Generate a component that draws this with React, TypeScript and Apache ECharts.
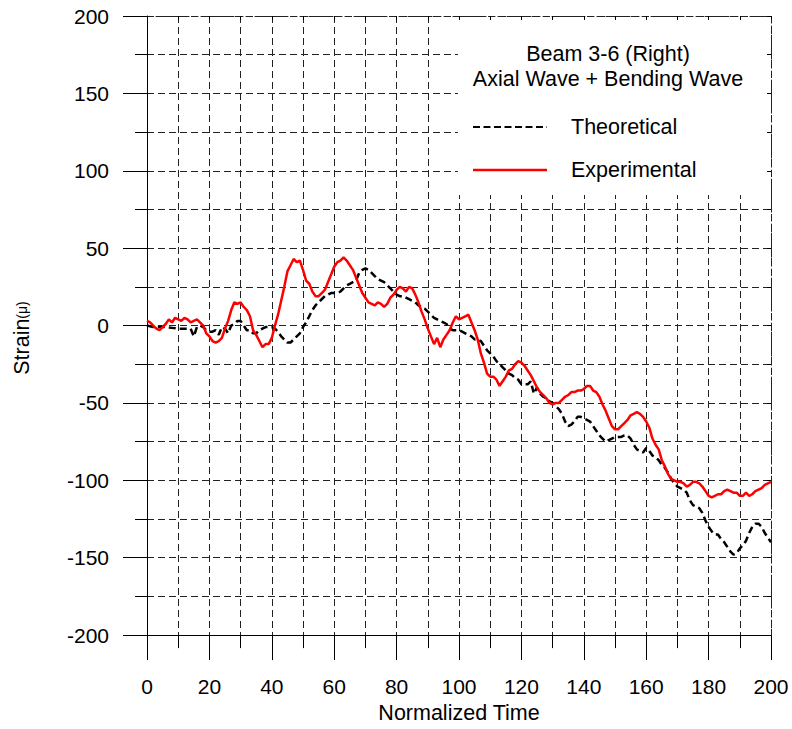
import React, { useEffect, useRef } from "react";
import * as echarts from "echarts";

// Normalized time / strain samples for each curve
const theoreticalT = [0,2,4,6,8,10,12,14,15,16,17,18,19,20,21,22,23,24,25,26,27,28,29,30,31,32,33,34,35,36,37,38,39,40,41,42,43,44,45,46,47,48,49,50,51,52,53,54,55,56,57,58,59,60,61,62,63,64,65,66,67,68,69,70,71,72,73,74,75,76,77,78,79,80,81,82,83,84,85,86,87,88,89,90,91,92,93,94,95,96,97,98,99,100,101,102,103,104,105,106,107,108,109,110,111,112,113,114,115,116,117,118,119,120,121,122,123,124,125,126,127,128,129,130,131,132,133,134,135,136,137,138,139,140,141,142,143,144,145,146,147,148,149,150,151,152,153,154,155,156,157,158,159,160,161,162,163,164,165,166,167,168,169,170,171,172,173,174,175,176,177,178,179,180,181,182,183,184,185,186,187,188,189,190,191,192,193,194,195,196,197,198,199,200];
const theoreticalStrain = [0,-1,-1,-1,-1.5,-2,-2,-2,-7,-1,0,-1,-3,-4,-4,-3,-6,-1,-2,-5,0,1,3,3,0,-3,-3,-5,-5,-3,-2,-1,-1,-1,-2,-4,-7,-9,-11,-11,-9,-7,-5,-1,2,6,10,13,15,17,19,20,21,21,21,22,24,26,27,28,29,34,36,37,36,34,32,30,29,28,26,24,22,20,19,19,18,17,16,15,13,12,11,9,7,5,4,3,2,1,-2,-3,-3,-3,-4,-5,-6,-7,-9,-9,-10,-13,-16,-18,-20,-23,-25,-27,-29,-31,-32,-34,-35,-38,-38,-38,-36,-44,-40,-44,-46,-47,-49,-50,-52,-54,-57,-62,-65,-64,-62,-59,-59,-60,-61,-62,-65,-68,-71,-73,-75,-74,-73,-72,-72,-72,-71,-71,-73,-77,-80,-81,-82,-79,-81,-84,-85,-87,-90,-92,-95,-99,-102,-104,-105,-106,-108,-113,-116,-117,-118,-121,-126,-130,-133,-135,-135,-138,-140,-143,-146,-148,-147,-144,-142,-139,-134,-130,-128,-128,-130,-134,-137,-140];

const experimentalStrain = [3,2,0,-2,-3,-1,1,4,2,5,4,3,5,4,2,3,4,2,0,-5,-7,-10,-11,-10,-8,-2,3,10,15,14,15,12,10,6,-3,-6,-10,-14,-12,-12,-8,0,7,16,25,35,39,43,41,42,36,29,27,22,19,19,21,23,28,33,38,41,42,44,42,39,36,31,26,21,18,15,14,13,15,14,12,14,18,20,23,25,24,22,25,24,20,15,9,4,-2,-7,-12,-8,-14,-9,-6,-3,2,6,4,5,6,7,2,-3,-9,-18,-24,-31,-33,-33,-35,-39,-36,-33,-29,-28,-25,-23,-24,-26,-29,-32,-36,-40,-43,-45,-47,-50,-51,-50,-50,-48,-46,-45,-43,-43,-42,-42,-41,-39,-39,-42,-43,-46,-51,-55,-60,-65,-67,-67,-65,-63,-61,-58,-57,-56,-57,-59,-62,-66,-73,-77,-80,-87,-91,-96,-99,-100,-101,-101,-102,-104,-103,-101,-101,-102,-104,-107,-110,-111,-110,-109,-109,-107,-106,-107,-108,-108,-110,-110,-108,-110,-109,-107,-106,-105,-103,-102,-101];
// experimental samples are taken every 1 time unit from 0 to 200
const experimentalT = experimentalStrain.map((_, i) => i);

const xTicks = [0, 200, 20];
const yTicks = [-200, 200, 50];

const seriesNames = ["Theoretical", "Experimental"];
const titleLines = ["Beam 3-6 (Right)", "Axial Wave + Bending Wave"];

const FONT = "'Liberation Sans', Arial, Helvetica, sans-serif";
const gridDash = { color: "#222", width: 1, type: [7, 4] as number[] };

export default function App() {
  const ref = useRef<HTMLDivElement>(null);

  useEffect(() => {
    if (!ref.current) return;
    const chart = echarts.init(ref.current, null, { renderer: "svg" });

    const theo = theoreticalT.map((t, i) => [t, theoreticalStrain[i]]);
    const expr = experimentalT.map((t, i) => [t, experimentalStrain[i]]);

    // top and right frame: dashed edge with short inward ticks
    const frameAxis = {
      show: true,
      axisLine: { show: true, onZero: false, lineStyle: { color: "#222", width: 1, type: [6, 3] } },
      axisTick: { show: true, inside: true, length: 4, lineStyle: { color: "#000", width: 1 } },
      minorTick: { show: true, splitNumber: 2, length: 4, lineStyle: { color: "#000", width: 1 } },
      axisLabel: { show: false },
      splitLine: { show: false },
      minorSplitLine: { show: false },
      z: 10,
    };

    const legendText = (text: string, x: number, y: number, align: string) => ({
      type: "text",
      z: 6,
      x,
      y,
      style: { text, fontSize: 21.5, fontFamily: FONT, fill: "#000", align, verticalAlign: "middle" },
    });

    chart.setOption({
      animation: false,
      backgroundColor: "#fff",
      textStyle: { fontFamily: FONT },
      grid: { left: 147, right: 21, top: 16, bottom: 91, containLabel: false },
      xAxis: [
        {
          type: "value",
          min: xTicks[0],
          max: xTicks[1],
          interval: xTicks[2],
          position: "bottom",
          name: "Normalized Time",
          nameLocation: "middle",
          nameGap: 65,
          nameTextStyle: { fontSize: 21.5, color: "#000", fontFamily: FONT },
          axisLine: { show: true, onZero: false, lineStyle: { color: "#000", width: 1 } },
          axisTick: { show: true, inside: false, length: 25, lineStyle: { color: "#000", width: 1 } },
          minorTick: { show: true, splitNumber: 2, length: 13, lineStyle: { color: "#000", width: 1 } },
          axisLabel: { fontSize: 21, color: "#000", margin: 41, fontFamily: FONT },
          splitLine: { show: true, lineStyle: gridDash },
          minorSplitLine: { show: true, lineStyle: gridDash },
        },
        {
          ...frameAxis,
          type: "value",
          min: xTicks[0],
          max: xTicks[1],
          interval: xTicks[2],
          position: "top",
        },
      ],
      yAxis: [
        {
          type: "value",
          min: yTicks[0],
          max: yTicks[1],
          interval: yTicks[2],
          position: "left",
          axisLine: { show: true, onZero: false, lineStyle: { color: "#000", width: 1 } },
          axisTick: { show: true, inside: false, length: 24, lineStyle: { color: "#000", width: 1 } },
          minorTick: { show: true, splitNumber: 2, length: 12, lineStyle: { color: "#000", width: 1 } },
          axisLabel: { fontSize: 21, color: "#000", margin: 38, fontFamily: FONT },
          splitLine: { show: true, lineStyle: gridDash },
          minorSplitLine: { show: true, lineStyle: gridDash },
        },
        {
          ...frameAxis,
          type: "value",
          min: yTicks[0],
          max: yTicks[1],
          interval: yTicks[2],
          position: "right",
        },
      ],
      graphic: [
        {
          type: "rect",
          z: 5,
          shape: { x: 458, y: 17, width: 312, height: 178 },
          style: { fill: "#fff" },
        },
        legendText(titleLines[0], 608, 54, "center"),
        legendText(titleLines[1], 608, 79, "center"),
        {
          type: "line",
          z: 6,
          shape: { x1: 473, y1: 127, x2: 547, y2: 127 },
          style: { stroke: "#000", lineWidth: 2, lineDash: [7, 3.5] },
        },
        legendText(seriesNames[0], 571, 127, "left"),
        {
          type: "line",
          z: 6,
          shape: { x1: 473, y1: 170, x2: 547, y2: 170 },
          style: { stroke: "#ff0000", lineWidth: 2.5 },
        },
        legendText(seriesNames[1], 571, 170, "left"),
        {
          type: "text",
          z: 6,
          x: 22,
          y: 338,
          rotation: Math.PI / 2,
          style: {
            text: "{a|Strain}{b|(μ)}",
            fontSize: 21.5,
            fontFamily: FONT,
            fill: "#000",
            align: "center",
            verticalAlign: "middle",
            rich: {
              a: { fontSize: 21.5, fontFamily: FONT, fill: "#000", verticalAlign: "middle" },
              b: { fontSize: 14, fontFamily: FONT, fill: "#000", verticalAlign: "middle" },
            },
          },
        },
      ],
      series: [
        {
          name: seriesNames[0],
          type: "line",
          data: theo,
          showSymbol: false,
          symbol: "none",
          z: 3,
          lineStyle: { color: "#000", width: 2.5, type: [7, 4] },
        },
        {
          name: seriesNames[1],
          type: "line",
          data: expr,
          showSymbol: false,
          symbol: "none",
          z: 4,
          lineStyle: { color: "#ff0000", width: 2.5 },
        },
      ],
    });

    return () => chart.dispose();
  }, []);

  return (
    <div
      ref={ref}
      style={{ position: "fixed", left: 0, top: 0, width: 792, height: 729, background: "#fff" }}
    />
  );
}
